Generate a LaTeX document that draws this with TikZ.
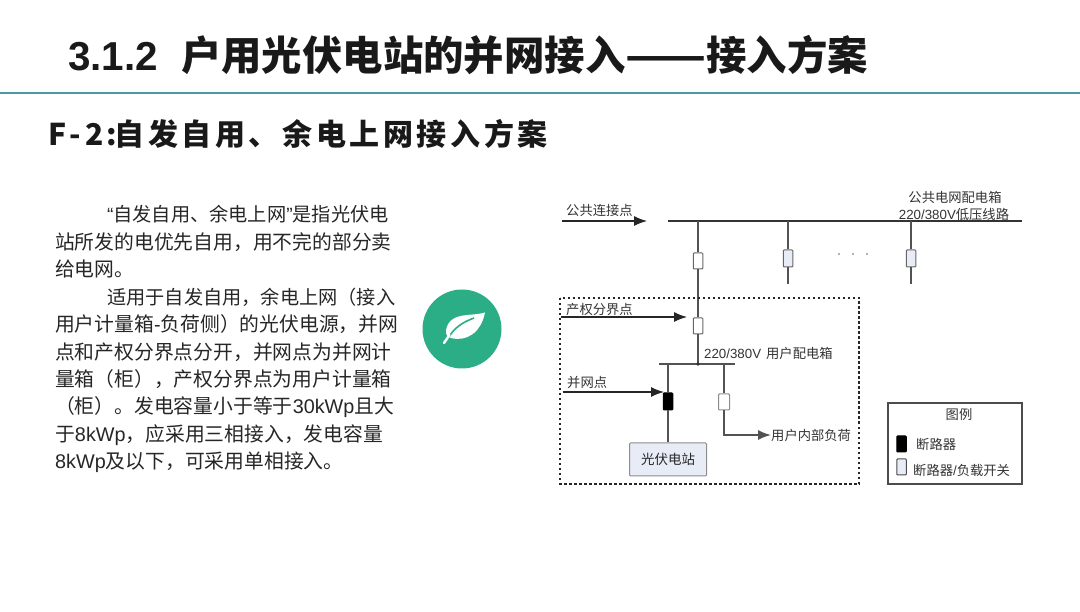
\documentclass[tikz,border=0pt]{standalone}
\usepackage{fontspec}
\setmainfont{Noto Sans CJK SC}
\newfontfamily\latinfont{Liberation Sans}
\newfontfamily\subfont[LetterSpace=12]{Noto Sans CJK SC}
\usetikzlibrary{arrows.meta}
\definecolor{rulecolor}{HTML}{4A9A9E}
\definecolor{iconcolor}{HTML}{2BAE85}
\definecolor{linecolor}{HTML}{333333}
\definecolor{lightbox}{HTML}{E8ECF6}
\tikzset{
  headtext/.style={anchor=west, inner sep=0pt, font=\fontsize{40.4}{41}\bfseries\selectfont, text=black!90},
  subtext/.style={anchor=west, inner sep=0pt, font=\fontsize{30}{30}\bfseries\subfont, text=black!90},
  bodytext/.style={anchor=west, inner sep=0pt, font=\fontsize{19.8}{20}\selectfont, text=black!85},
  tightbody/.style={bodytext, font=\fontsize{19.2}{20}\selectfont},
  labeltext/.style={anchor=west, inner sep=0pt, font=\fontsize{13.3}{14}\selectfont, text=black!80},
  busline/.style={draw=linecolor, line width=1.5pt},
  feeder/.style={draw=linecolor!85, line width=1.6pt},
  pointer/.style={draw=black!85, line width=1.1pt, -{Latex[length=13pt,width=10pt]}},
  openswitch/.style={draw=black!60, fill=white, line width=1pt, rounded corners=0.8pt, inner sep=0pt, minimum width=9.5pt, minimum height=16pt},
  lightswitch/.style={openswitch, fill=lightbox, minimum height=17pt},
  blackswitch/.style={openswitch, fill=black, draw=black, minimum height=17pt}
}
\begin{document}
\begin{tikzpicture}[x=1pt,y=-1pt]
  \useasboundingbox (0,0) rectangle (1080,612);

  % Page heading and rule
  \node[headtext] (title) at (68,55) {{\latinfont 3.1.2}\hspace{23pt}户用光伏电站的并网接入\scalebox{1.17}[1]{——}接入方案};
  \coordinate (ruleL) at (0,93.5);
  \coordinate (ruleR) at (1080,93.5);
  \draw[rulecolor, line width=2pt] (ruleL) -- (ruleR);
  \node[subtext] (subtitle) at (48,134) {F-2:\hspace{-3pt}自发自用、余电上网接入方案};

  % Paragraphs on the left
  \node[tightbody] (lineA) at (107,214) {{\latinfont “}自发自用、余电上网{\latinfont ”}是指光伏电};
  \node[bodytext] (lineB) at (55,242) {站所发的电优先自用，用不完的部分卖};
  \node[bodytext] (lineC) at (55,269) {给电网。};
  \node[tightbody] (lineD) at (107,297) {适用于自发自用，余电上网（接入};
  \node[bodytext] (lineE) at (55,324) {用户计量箱{\latinfont -}负荷侧）的光伏电源，并网};
  \node[bodytext] (lineF) at (55,352) {点和产权分界点分开，并网点为并网计};
  \node[bodytext] (lineG) at (55,379) {量箱（柜），产权分界点为用户计量箱};
  \node[bodytext] (lineH) at (55,407) {（柜）。发电容量小于等于{\latinfont 30kWp}且大};
  \node[bodytext] (lineI) at (55,435) {于{\latinfont 8kWp}，应采用三相接入，发电容量};
  \node[bodytext] (lineJ) at (55,462) {{\latinfont 8kWp}及以下，可采用单相接入。};

  % Leaf icon
  \fill[iconcolor] (462,329) circle (39.5);
  \fill[white] (485,312.5) .. controls (470,317) and (450,311) .. (446,330)
    .. controls (445.5,334) and (447,337) .. (451,338)
    .. controls (466,342) and (481,333) .. (485,312.5) -- cycle;
  \draw[iconcolor, line width=1.6pt] (449,337) .. controls (454,328) and (463,322) .. (474,318);
  \draw[white, line width=2.4pt, line cap=round] (449.5,335) -- (444,343);

  % Public bus
  \coordinate (busL) at (668,221);
  \coordinate (busR) at (1022,221);
  \coordinate (tapA) at (698,221);
  \coordinate (tapB) at (788,221);
  \coordinate (tapC) at (911,221);
  \draw[busline] (busL) -- (busR);

  % Outgoing lines with their switches
  \node[openswitch] (swA) at (698,261) {};
  \node[openswitch] (swB) at (698,326) {};
  \node[lightswitch] (swC) at (788,258.5) {};
  \node[lightswitch] (swD) at (911,258.5) {};
  \coordinate (endC) at (788,284);
  \coordinate (endD) at (911,284);
  \coordinate (userTap) at (698,364);
  \draw[feeder] (tapA) -- (swA);
  \draw[feeder] (swA) -- (swB);
  \draw[feeder] (swB) -- (userTap);
  \draw[feeder] (tapB) -- (swC);
  \draw[feeder] (swC) -- (endC);
  \draw[feeder] (tapC) -- (swD);
  \draw[feeder] (swD) -- (endD);
  \node[circle, fill=black!60, inner sep=0.6pt] (dotA) at (839,254) {};
  \node[circle, fill=black!60, inner sep=0.6pt] (dotB) at (853,254) {};
  \node[circle, fill=black!60, inner sep=0.6pt] (dotC) at (867,254) {};

  % Dotted property boundary
  \draw[black!85, line width=1.3pt, dash pattern=on 2.5pt off 2.5pt] (560,298) rectangle (859,484);

  % User bus and branches
  \coordinate (userL) at (659,364);
  \coordinate (userR) at (735,364);
  \coordinate (tapE) at (668,364);
  \coordinate (tapF) at (724,364);
  \draw[feeder] (userL) -- (userR);
  \fill[linecolor] (userTap) circle (1.8);
  \node[blackswitch] (swE) at (668,401.5) {};
  \node[openswitch, minimum width=11pt, draw=black!45] (swF) at (724,402) {};
  \node[draw=black!45, fill=lightbox, rounded corners=1pt, line width=1pt, minimum width=77pt, minimum height=33pt, inner sep=0pt,
    font=\fontsize{13.5}{14}\selectfont, text=black!85] (pvbox) at (668,459.5) {光伏电站};
  \draw[feeder] (tapE) -- (swE);
  \draw[feeder] (swE) -- (pvbox);
  \draw[feeder] (tapF) -- (swF);
  \coordinate (loadEnd) at (771,435);
  \draw[feeder, -{Latex[length=13pt,width=10pt]}] (swF) |- (loadEnd);

  % Pointers into the diagram
  \coordinate (ptA) at (562,221);
  \coordinate (ptAend) at (647,221);
  \coordinate (ptB) at (561,317);
  \coordinate (ptBend) at (687,317);
  \coordinate (ptC) at (563,392);
  \coordinate (ptCend) at (664,392);
  \draw[pointer] (ptA) -- (ptAend);
  \draw[pointer] (ptB) -- (ptBend);
  \draw[pointer] (ptC) -- (ptCend);

  % Diagram labels
  \node[labeltext] (pcc) at (566,210) {公共连接点};
  \node[labeltext] (bound) at (566,309) {产权分界点};
  \node[labeltext] (gridpt) at (567,382) {并网点};
  \node[labeltext] (userbox) at (704,353.5) {{\latinfont 220/380V}\hspace{5pt}用户配电箱};
  \node[labeltext] (load) at (771,435) {用户内部负荷};
  \node[labeltext, anchor=center] (pubbox) at (955,197) {公共电网配电箱};
  \node[labeltext, anchor=center] (lowline) at (954,214) {{\latinfont 220/380V}低压线路};

  % Legend
  \draw[black!70, line width=1.2pt] (888,403) rectangle (1022,484);
  \node[labeltext, anchor=center] (legtitle) at (959,414) {图例};
  \node[blackswitch, minimum height=16pt] (legA) at (901.5,444) {};
  \node[lightswitch, minimum height=16pt, draw=black!70] (legB) at (901.5,467) {};
  \node[labeltext] (legAtext) at (916,444) {断路器};
  \node[labeltext] (legBtext) at (913,470) {断路器{\latinfont /}负载开关};
\end{tikzpicture}
\end{document}
